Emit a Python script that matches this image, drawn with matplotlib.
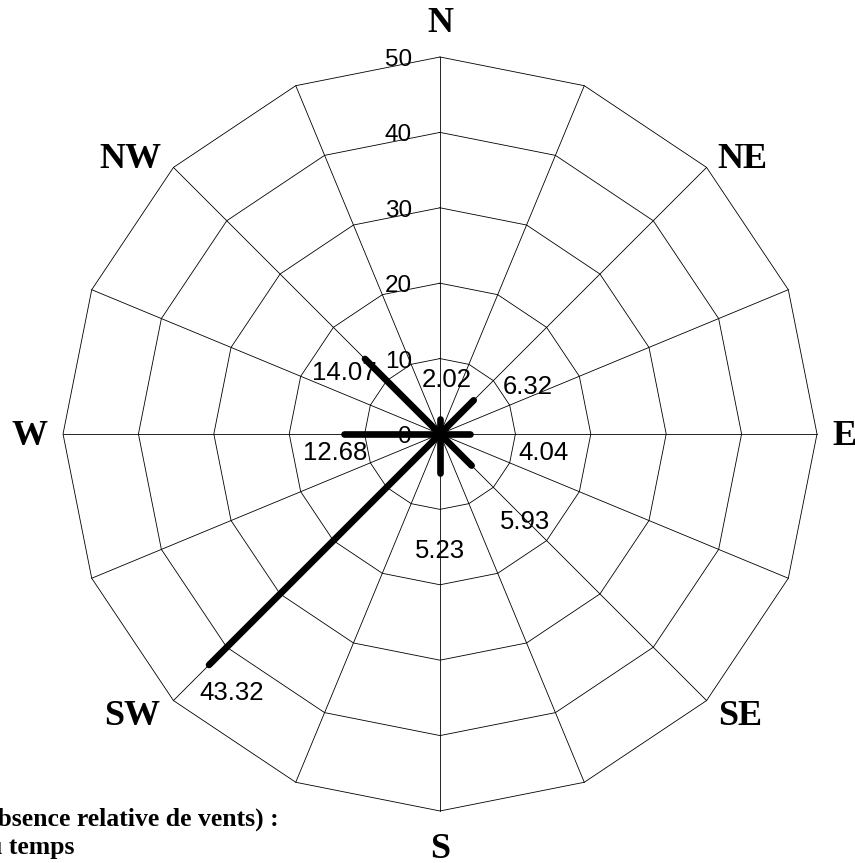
import numpy as np
import matplotlib.pyplot as plt

# Rose des vents : fréquence (%) par direction
directions = ['N', 'NE', 'E', 'SE', 'S', 'SW', 'W', 'NW']
frequences = [2.02, 6.32, 4.04, 5.93, 5.23, 43.32, 12.68, 14.07]
anneaux = [0, 10, 20, 30, 40, 50]
note_calme = ['Calme (absence relative de vents) :', '0 % du temps']

# mise en page (unités de données, 1 unité = 1 %)
decal_valeurs = [(0.93, 5.41), (7.2, 2.03), (9.75, -2.25), (7.08, -7.22),
                 (0.0, -10.02), (3.03, -3.47), (-1.25, -2.25), (-2.78, -1.59)]
pos_directions = [(0, 53.3), (40.1, 35.3), (53.7, -1.46), (39.8, -38.6),
                  (0, -56.2), (-40.8, -38.6), (-54.4, -1.46), (-41.0, 35.3)]

fig = plt.figure(figsize=(8.55, 8.63), dpi=100)
ax = fig.add_axes([0, 0, 1, 1])
ax.set_xlim(-58.36, 55.04)
ax.set_ylim(-56.90, 57.56)
ax.axis('off')

# grille : polygone à 16 côtés
n_rayons = 16
angles_grille = np.radians(90 - np.arange(n_rayons + 1) * 360 / n_rayons)
for r in anneaux[1:]:
    ax.plot(r * np.cos(angles_grille), r * np.sin(angles_grille),
            color='black', lw=0.6, zorder=1)
rmax = anneaux[-1]
for a in angles_grille[:-1]:
    ax.plot([0, rmax * np.cos(a)], [0, rmax * np.sin(a)],
            color='black', lw=0.6, zorder=1)

# étiquettes des anneaux
for r in anneaux:
    ax.text(-3.7, r - 1.2, str(r), ha='right', va='baseline',
            fontsize=17.5, family='Liberation Sans', zorder=3)

# branches
angles = np.radians(90 - np.arange(len(directions)) * 45)
for f, a, (dx, dy) in zip(frequences, angles, decal_valeurs):
    x, y = f * np.cos(a), f * np.sin(a)
    ax.plot([0, x], [0, y], color='black', lw=4.8,
            solid_capstyle='round', zorder=2)
    ax.text(x + dx, y + dy - 1.2, f'{f:.2f}', ha='center', va='baseline',
            fontsize=18.5, family='Liberation Sans', zorder=3)

# directions
for d, (x, y) in zip(directions, pos_directions):
    ax.text(x, y, d, ha='center', va='baseline', fontsize=26,
            fontweight='bold', family='Liberation Serif')

# note en bas à gauche (coupée par le bord)
fig.text(279 / 855, 1 - 826 / 863, note_calme[0], ha='right', va='baseline',
         fontsize=18.5, fontweight='bold', family='Liberation Serif')
fig.text(74 / 855, 1 - 854 / 863, note_calme[1], ha='right', va='baseline',
         fontsize=18.5, fontweight='bold', family='Liberation Serif')

fig.savefig('out.png', dpi=100)
